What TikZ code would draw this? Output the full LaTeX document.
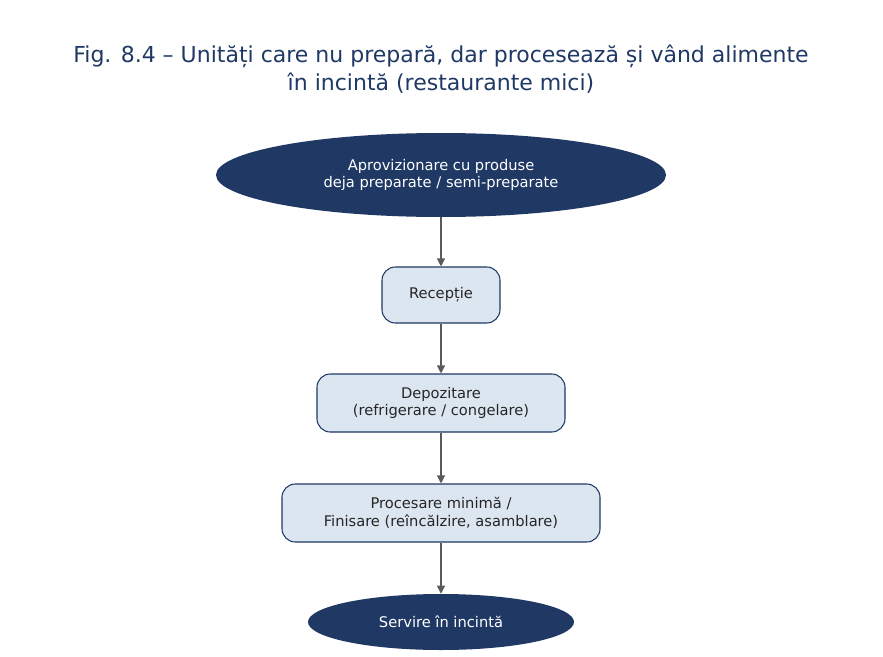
\documentclass[tikz,border=0pt]{standalone}
\usepackage{fontspec}
\setmainfont{DejaVu Sans}
\usetikzlibrary{shapes.geometric,arrows.meta,positioning}
\definecolor{navy}{HTML}{1F3864}
\definecolor{boxfill}{HTML}{DCE6F0}
\definecolor{arrowgray}{HTML}{5A5A5A}
\begin{document}
\begin{tikzpicture}[
    x=0.75pt, y=-0.75pt,
    endpoint/.style={ellipse, fill=navy, text=white, font=\fontsize{11}{13}\selectfont, align=center, inner sep=0pt},
    stage/.style={rectangle, rounded corners=10pt, draw=navy, thick, fill=boxfill, text=black!85, font=\fontsize{11}{13}\selectfont, align=center, inner sep=0pt},
    flow/.style={-{Triangle[length=6pt,width=6pt]}, arrowgray, thick}
]
\useasboundingbox (0,0) rectangle (883,657);

% Title
\node[text=navy, font=\fontsize{16.5}{21}\selectfont, align=center] (title) at (441,69)
    {Fig. 8.4 – Unități care nu prepară, dar procesează și vând alimente\\în incintă (restaurante mici)};

% Nodes
\node[endpoint, minimum width=450*0.75pt, minimum height=84*0.75pt] (supply) at (441,175)
    {Aprovizionare cu produse\\deja preparate / semi-preparate};
\node[stage, minimum width=118*0.75pt, minimum height=56*0.75pt] (receive) at (441,295) {Recepție};
\node[stage, minimum width=248*0.75pt, minimum height=58*0.75pt] (store) at (441,403)
    {Depozitare\\(refrigerare / congelare)};
\node[stage, minimum width=318*0.75pt, minimum height=58*0.75pt] (process) at (441,513)
    {Procesare minimă /\\Finisare (reîncălzire, asamblare)};
\node[endpoint, minimum width=266*0.75pt, minimum height=56*0.75pt] (serve) at (441,622) {Servire în incintă};

% Connectors
\draw[flow] (supply) -- (receive);
\draw[flow] (receive) -- (store);
\draw[flow] (store) -- (process);
\draw[flow] (process) -- (serve);
\end{tikzpicture}
\end{document}
